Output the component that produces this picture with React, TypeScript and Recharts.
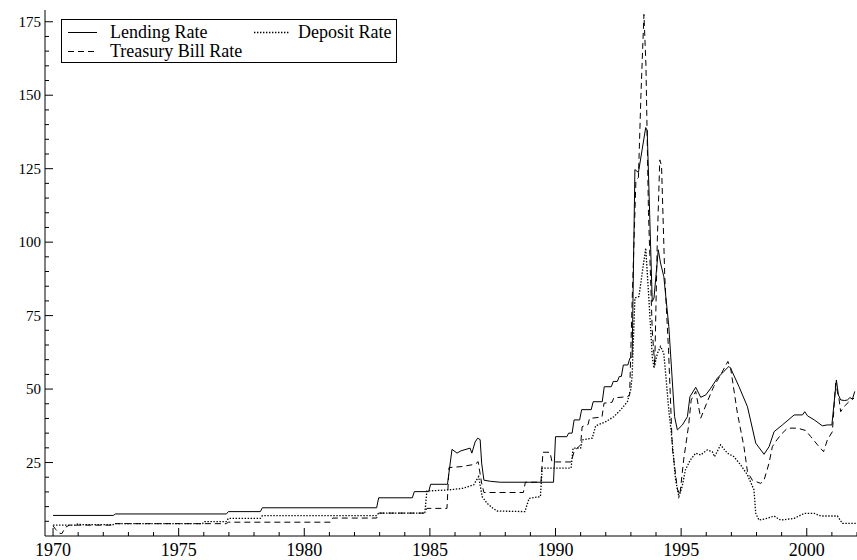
import React from 'react';
import { LineChart, Line, XAxis, YAxis } from 'recharts';

// [year, percent]
const lendingRate: [number, number][] = [
  [1970.0, 7.0], [1972.4, 7.0], [1972.48, 7.5], [1976.9, 7.5], [1976.98, 8.3],
  [1978.25, 8.3], [1978.33, 9.6], [1982.88, 9.6], [1982.96, 13.0], [1984.3, 13.0],
  [1984.38, 15.1], [1984.95, 15.1], [1985.03, 17.6], [1985.7, 17.6], [1985.88, 29.5],
  [1986.08, 28.2], [1986.24, 29.0], [1986.6, 29.9], [1986.67, 28.2], [1986.8, 32.0],
  [1986.9, 33.3], [1987.0, 32.8], [1987.06, 24.8], [1987.15, 19.0], [1987.42, 18.6],
  [1987.8, 18.3], [1989.92, 18.3], [1990.0, 33.8], [1990.45, 33.8], [1990.52, 35.0],
  [1990.66, 35.0], [1990.74, 39.5], [1990.96, 39.5], [1991.04, 43.0], [1991.42, 43.0],
  [1991.5, 45.7], [1991.86, 45.7], [1991.94, 50.8], [1992.22, 50.8], [1992.3, 52.6],
  [1992.46, 52.6], [1992.54, 54.3], [1992.62, 54.3], [1992.7, 58.2], [1992.88, 58.2],
  [1992.96, 60.5], [1993.05, 61.0], [1993.16, 124.7], [1993.3, 123.7], [1993.59, 139.0],
  [1993.65, 138.0], [1993.85, 79.8], [1993.92, 81.0], [1994.09, 97.4], [1994.18, 92.9],
  [1994.31, 88.3], [1994.51, 71.3], [1994.74, 40.6], [1994.85, 36.1], [1995.05, 37.8],
  [1995.25, 40.6], [1995.35, 47.4], [1995.58, 50.6], [1995.78, 47.2], [1995.98, 48.0],
  [1996.18, 50.3], [1996.44, 53.7], [1996.7, 56.0], [1996.9, 57.7], [1996.97, 57.1],
  [1997.3, 50.9], [1997.64, 44.0], [1997.97, 31.6], [1998.3, 27.8], [1998.5, 30.4],
  [1998.7, 35.5], [1999.03, 37.8], [1999.5, 41.2], [1999.83, 41.2], [1999.92, 42.3],
  [2000.03, 40.9], [2000.3, 39.5], [2000.62, 37.5], [2000.82, 37.8], [2001.0, 37.8],
  [2001.18, 53.1], [2001.26, 48.0], [2001.35, 46.3], [2001.51, 46.1], [2001.62, 46.3],
  [2001.72, 47.1], [2001.82, 46.6], [2001.91, 49.2],
];

const treasuryBillRate: [number, number][] = [
  [1970.0, 3.5], [1970.1, 2.3], [1970.25, 1.0], [1970.35, 0.8], [1970.5, 3.0],
  [1970.65, 3.7], [1972.4, 3.7], [1972.48, 4.2], [1976.9, 4.2], [1976.98, 4.7],
  [1981.05, 4.7], [1981.13, 6.1], [1982.88, 6.1], [1982.96, 7.8], [1984.8, 7.8],
  [1984.88, 9.4], [1985.68, 9.4], [1985.76, 23.3], [1986.24, 23.6], [1986.8, 24.4],
  [1986.92, 25.3], [1987.06, 18.0], [1987.15, 14.8], [1988.72, 14.8], [1988.8, 18.3],
  [1989.42, 18.3], [1989.5, 28.5], [1989.78, 28.5], [1989.86, 25.2], [1990.62, 25.2],
  [1990.75, 29.0], [1991.0, 31.0], [1991.06, 37.2], [1991.3, 38.0], [1991.35, 40.0],
  [1991.85, 40.5], [1991.93, 45.2], [1992.25, 45.5], [1992.32, 47.0], [1992.86, 47.4],
  [1992.95, 48.0], [1993.05, 80.0], [1993.2, 121.0], [1993.3, 122.0], [1993.4, 150.0],
  [1993.52, 177.5], [1993.6, 160.0], [1993.7, 110.0], [1993.85, 70.0], [1993.95, 58.0],
  [1994.05, 100.0], [1994.15, 128.0], [1994.22, 126.0], [1994.35, 88.0], [1994.5, 63.0],
  [1994.65, 30.0], [1994.85, 16.0], [1994.95, 14.0], [1995.1, 25.9], [1995.3, 37.8],
  [1995.4, 46.3], [1995.58, 49.2], [1995.78, 40.1], [1996.04, 45.7], [1996.3, 50.9],
  [1996.57, 54.8], [1996.86, 59.4], [1996.97, 57.1], [1997.24, 41.8], [1997.5, 30.4],
  [1997.64, 21.9], [1997.83, 19.0], [1998.17, 17.9], [1998.3, 19.0], [1998.5, 24.8],
  [1998.63, 30.4], [1998.76, 32.1], [1998.96, 34.4], [1999.23, 36.7], [1999.63, 36.7],
  [1999.96, 35.9], [2000.16, 33.8], [2000.43, 31.0], [2000.67, 28.7], [2000.82, 32.7],
  [2001.02, 35.5], [2001.15, 52.0], [2001.29, 46.3], [2001.35, 42.3], [2001.48, 44.0],
  [2001.68, 45.7], [2001.88, 46.9],
];

const depositRate: [number, number][] = [
  [1970.0, 3.7], [1970.9, 3.7], [1971.0, 4.2], [1971.1, 3.9], [1972.4, 3.9],
  [1972.48, 4.2], [1975.95, 4.2], [1976.03, 4.9], [1976.9, 4.9], [1976.98, 6.0],
  [1978.25, 6.0], [1978.33, 6.9], [1982.88, 6.9], [1982.96, 7.8], [1984.8, 7.8],
  [1984.88, 15.3], [1985.75, 15.7], [1986.3, 16.2], [1986.74, 17.4], [1986.94, 20.2],
  [1987.08, 13.4], [1987.28, 11.1], [1987.5, 9.5], [1987.68, 8.5], [1988.78, 8.3],
  [1988.95, 12.8], [1989.4, 13.4], [1989.47, 23.1], [1990.62, 23.1], [1990.7, 29.9],
  [1991.0, 29.9], [1991.06, 32.7], [1991.46, 33.3], [1991.6, 37.5], [1992.0, 38.9],
  [1992.32, 40.6], [1992.59, 42.9], [1992.86, 45.7], [1993.0, 50.0], [1993.05, 54.8],
  [1993.16, 81.0], [1993.32, 81.5], [1993.59, 98.0], [1993.72, 80.4], [1993.85, 61.0],
  [1993.92, 57.1], [1994.05, 62.0], [1994.18, 64.5], [1994.31, 62.2], [1994.51, 42.9],
  [1994.65, 31.6], [1994.78, 19.0], [1994.91, 13.4], [1995.04, 16.8], [1995.17, 22.5],
  [1995.37, 25.9], [1995.58, 28.2], [1995.78, 27.6], [1996.04, 29.3], [1996.24, 28.7],
  [1996.33, 27.0], [1996.57, 31.0], [1996.84, 28.2], [1997.1, 27.0], [1997.37, 24.2],
  [1997.64, 20.8], [1997.9, 15.7], [1997.97, 7.7], [1998.1, 5.4], [1998.43, 6.0],
  [1998.7, 6.8], [1998.96, 5.4], [1999.5, 6.0], [1999.9, 7.7], [2000.3, 7.7],
  [2000.56, 6.8], [2001.22, 6.8], [2001.42, 4.3], [2001.95, 4.3],
];

// major (labelled) and minor tick values
const yearTicks = [1970, 1975, 1980, 1985, 1990, 1995, 2000];
const yearAllTicks = [
  1970, 1971, 1972, 1973, 1974, 1975, 1976, 1977, 1978, 1979, 1980, 1981, 1982,
  1983, 1984, 1985, 1986, 1987, 1988, 1989, 1990, 1991, 1992, 1993, 1994, 1995,
  1996, 1997, 1998, 1999, 2000, 2001, 2002,
];
const valueTicks = [25, 50, 75, 100, 125, 150, 175];
const valueAllTicks = [
  5, 10, 15, 20, 25, 30, 35, 40, 45, 50, 55, 60, 65, 70, 75, 80, 85, 90, 95, 100,
  105, 110, 115, 120, 125, 130, 135, 140, 145, 150, 155, 160, 165, 170, 175,
];

const xDomain: [number, number] = [1969.68, 2002.0];
const yDomain: [number, number] = [0, 179];

const toPoints = (arr: [number, number][]) => arr.map(([x, y]) => ({ x, y }));

const FONT = '"Liberation Serif", "Times New Roman", serif';
const X_MARGIN = 2;
const Y_MARGIN = 4;

const XTick = (props: any) => {
  const { x, y, payload } = props;
  const axisY = y - X_MARGIN;
  const major = yearTicks.includes(payload.value);
  return (
    <g>
      <line x1={x} x2={x} y1={axisY} y2={axisY - (major ? 8 : 4)} stroke="#000" strokeWidth={1} />
      {major && (
        <text x={x} y={axisY + 20} textAnchor="middle" fontSize={18} fontFamily={FONT} fill="#000">
          {payload.value}
        </text>
      )}
    </g>
  );
};

const YTick = (props: any) => {
  const { x, y, payload } = props;
  const axisX = x + Y_MARGIN;
  const major = valueTicks.includes(payload.value);
  return (
    <g>
      <line x1={axisX} x2={axisX + (major ? 8 : 4)} y1={y} y2={y} stroke="#000" strokeWidth={1} />
      {major && (
        <text x={x} y={y + 5} textAnchor="end" fontSize={15} fontFamily={FONT} fill="#000">
          {payload.value}
        </text>
      )}
    </g>
  );
};

const DOT_DASH = '1.4 1.6';

export default function App() {
  return (
    <div
      style={{
        position: 'fixed', left: 0, top: 0, width: 857, height: 560,
        overflow: 'hidden', background: '#fff',
      }}
    >
      <LineChart width={857} height={560} margin={{ top: 10, right: 0, bottom: 0, left: 0 }}>
        <XAxis
          type="number" dataKey="x" domain={xDomain} allowDataOverflow ticks={yearAllTicks}
          interval={0} height={24} tickLine={false} tickSize={0} tickMargin={X_MARGIN}
          axisLine={{ stroke: '#000', strokeWidth: 1 }} tick={<XTick />}
        />
        <YAxis
          type="number" domain={yDomain} allowDataOverflow ticks={valueAllTicks}
          interval={0} width={45} tickLine={false} tickSize={0} tickMargin={Y_MARGIN}
          axisLine={{ stroke: '#000', strokeWidth: 1 }} tick={<YTick />}
        />
        <Line
          data={toPoints(lendingRate)} dataKey="y" name="Lending Rate" type="linear"
          stroke="#000" strokeWidth={1} dot={false} activeDot={false} isAnimationActive={false}
        />
        <Line
          data={toPoints(treasuryBillRate)} dataKey="y" name="Treasury Bill Rate" type="linear"
          stroke="#000" strokeWidth={1} strokeDasharray="6 4" dot={false} activeDot={false}
          isAnimationActive={false}
        />
        <Line
          data={toPoints(depositRate)} dataKey="y" name="Deposit Rate" type="linear"
          stroke="#000" strokeWidth={1.3} strokeDasharray={DOT_DASH} dot={false} activeDot={false}
          isAnimationActive={false}
        />
      </LineChart>
      <svg
        width={336} height={44}
        style={{ position: 'absolute', left: 61, top: 19, overflow: 'visible' }}
      >
        <rect x={0.5} y={0.5} width={335} height={43} fill="#fff" stroke="#000" strokeWidth={1} />
        <line x1={7} x2={36} y1={13.5} y2={13.5} stroke="#000" strokeWidth={1} />
        <text x={49} y={18.5} fontSize={18} fontFamily={FONT} fill="#000">Lending Rate</text>
        <line x1={193} x2={229} y1={13.5} y2={13.5} stroke="#000" strokeWidth={1.3} strokeDasharray={DOT_DASH} />
        <text x={237} y={18.5} fontSize={18} fontFamily={FONT} fill="#000">Deposit Rate</text>
        <line x1={7} x2={36} y1={32.5} y2={32.5} stroke="#000" strokeWidth={1} strokeDasharray="6 4" />
        <text x={49} y={38} fontSize={18} fontFamily={FONT} fill="#000">Treasury Bill Rate</text>
      </svg>
    </div>
  );
}
